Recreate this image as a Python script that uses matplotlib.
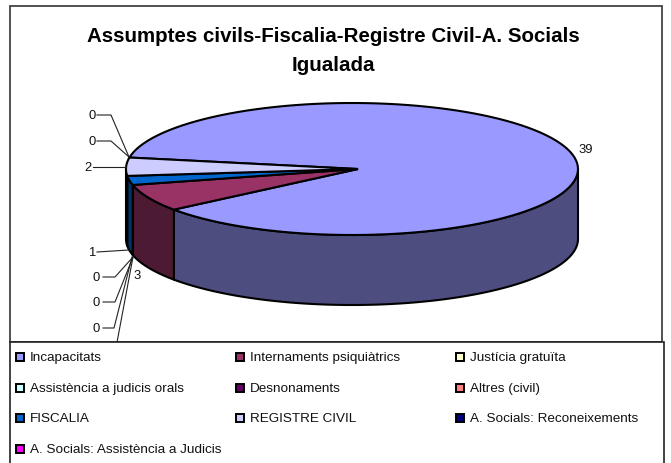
import numpy as np
import matplotlib
matplotlib.use('Agg')
import matplotlib.pyplot as plt
from matplotlib.patches import Polygon, Rectangle

categories = ['Incapacitats', 'Internaments psiquiàtrics', 'Justícia gratuïta',
              'Assistència a judicis orals', 'Desnonaments', 'Altres (civil)',
              'FISCALIA', 'REGISTRE CIVIL', 'A. Socials: Reconeixements',
              'A. Socials: Assistència a Judicis']
values = [39, 3, 0, 0, 0, 0, 1, 2, 0, 0]
title = 'Assumptes civils-Fiscalia-Registre Civil-A. Socials\nIgualada'

top_colors = ['#9999FF', '#993366', '#FFFFCC', '#CCFFFF', '#660066',
              '#FF8080', '#0066CC', '#CCCCFF', '#000080', '#FF00FF']
side_colors = ['#4D4D80', '#4D1A33', '#808066', '#668080', '#330033',
               '#804040', '#003366', '#666680', '#000040', '#800080']

plt.rcParams['font.family'] = ['Liberation Sans', 'DejaVu Sans']

fig = plt.figure(figsize=(6.71, 4.64), dpi=100)
ax = fig.add_axes([0, 0, 1, 1])
ax.set_xlim(0, 671)
ax.set_ylim(464, 0)
ax.axis('off')

# pie geometry in pixels
cx, cy, rx, ry, depth = 352, 170, 226, 66, 70
apex = (358, 170)
start = 170


def rim(a1, a2, drop=0):
    t = np.radians(np.linspace(a1, a2, 120))
    return np.column_stack([cx + rx * np.cos(t), cy - ry * np.sin(t) + drop])


ax.add_patch(Rectangle((10, 7), 652, 336, fc='white', ec='#333333', lw=1.2, zorder=0))

# walk the slices clockwise from the start angle
angles = []
a = start
for v in values:
    angles.append((a, a - v / sum(values) * 360))
    a = angles[-1][1]

for (a1, a2), col, v in zip(angles, side_colors, values):
    if v == 0:
        continue
    # the front of the pie is between 180 and 360 (-180 to 0)
    for shift in (0, 360, -360):
        lo = max(min(a1, a2) + shift, 180)
        hi = min(max(a1, a2) + shift, 360)
        if hi > lo:
            pts = np.vstack([rim(lo, hi), rim(hi, lo, depth)])
            ax.add_patch(Polygon(pts, closed=True, fc=col, ec='black', lw=1.5,
                                 joinstyle='round', zorder=2))

for (a1, a2), col, v in zip(angles, top_colors, values):
    if v == 0:
        continue
    pts = np.vstack([[apex], rim(a1, a2)])
    ax.add_patch(Polygon(pts, closed=True, fc=col, ec='black', lw=1.5,
                         joinstyle='miter', zorder=3))

# data labels, same order as the values
# the Justicia label falls under the legend box in the original, only its leader shows
label_pos = [(586, 150), (137, 276), None, (96, 329), (96, 303), (96, 278),
             (92, 253), (88, 168), (92, 142), (92, 116)]
leaders = [None, None,
           [(103, 354), (115, 354), (133, 258)],
           [(103, 329), (114, 329), (132, 258)],
           [(103, 303), (115, 303), (133, 258)],
           [(103, 278), (115, 278), (133, 258)],
           [(97, 253), (129, 251)],
           [(93, 168), (126, 168)],
           [(97, 142), (111, 142), (129, 158)],
           [(97, 116), (111, 116), (129, 158)]]
for v, pos, lead in zip(values, label_pos, leaders):
    if pos:
        ax.text(pos[0], pos[1], str(v), ha='center', va='center', fontsize=9.4,
                color='#111111', zorder=4)
    if lead:
        ax.plot(*zip(*lead), color='#222222', lw=0.8, zorder=4)

ax.text(333, 51, title, ha='center', va='center', fontsize=14.75, fontweight='bold',
        linespacing=1.65, zorder=5)

# legend box covers whatever runs past the plot area
ax.add_patch(Rectangle((10, 343), 654, 125, fc='white', ec='#222222', lw=1.2, zorder=6))
col_x = [16, 236, 456]
row_y = [358, 389, 419, 450]
for i, (name, col) in enumerate(zip(categories, top_colors)):
    x = col_x[i % 3]
    y = row_y[i // 3]
    ax.add_patch(Rectangle((x, y - 4), 8, 8, fc=col, ec='black', lw=1.4, zorder=7))
    ax.text(x + 13.5, y, name, ha='left', va='center', fontsize=9.7, color='#111111', zorder=7)

fig.savefig('out.png', dpi=100)
